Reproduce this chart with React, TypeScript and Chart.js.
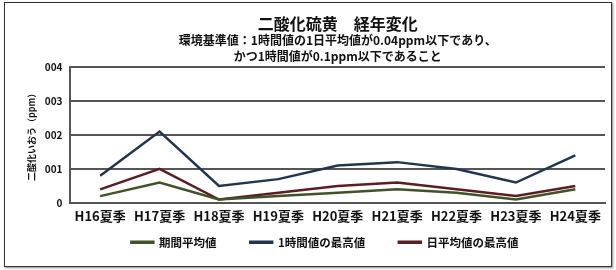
import React, { useEffect, useRef } from "react";
import { Chart, registerables } from "chart.js";

Chart.register(...registerables);

const categories = ["H16夏季", "H17夏季", "H18夏季", "H19夏季", "H20夏季", "H21夏季", "H22夏季", "H23夏季", "H24夏季"];
const periodAvg = [0.002, 0.006, 0.001, 0.002, 0.003, 0.004, 0.003, 0.001, 0.004];
const hourlyMax = [0.008, 0.021, 0.005, 0.007, 0.011, 0.012, 0.010, 0.006, 0.014];
const dailyAvgMax = [0.004, 0.010, 0.001, 0.003, 0.005, 0.006, 0.004, 0.002, 0.005];
const yTickLabels = ["0", "001", "002", "003", "004"];
const seriesNames = ["期間平均値", "1時間値の最高値", "日平均値の最高値"];
const titleText = "二酸化硫黄　経年変化";
const subtitleLines = ["環境基準値：1時間値の1日平均値が0.04ppm以下であり、", "かつ1時間値が0.1ppm以下であること"];
const yTitle = "二酸化いおう（ppm）";

const FONT = "'Noto Sans CJK JP', 'Noto Sans', sans-serif";

export default function App() {
  const ref = useRef<HTMLCanvasElement>(null);
  useEffect(() => {
    document.body.style.margin = "0";
    const colors = ["#3f5228", "#1f3550", "#5b1e22"];
    const chart = new Chart(ref.current!, {
      type: "line",
      data: {
        labels: categories,
        datasets: [periodAvg, hourlyMax, dailyAvgMax].map((d, i) => ({
          label: seriesNames[i] + "　　 ",
          data: d,
          borderColor: colors[i],
          backgroundColor: colors[i],
          borderWidth: 2.5,
          pointRadius: 0,
          tension: 0,
        })),
      },
      options: {
        animation: false,
        responsive: false,
        maintainAspectRatio: false,
        layout: { padding: { left: 22, right: 11, top: 0, bottom: 12 } },
        plugins: {
          title: {
            display: true,
            fullSize: false,
            text: titleText,
            color: "#111",
            font: { family: FONT, size: 16, weight: "bold", lineHeight: 1 },
            padding: { top: 16, bottom: 0 },
          },
          subtitle: {
            display: true,
            fullSize: false,
            text: subtitleLines,
            color: "#111",
            font: { family: FONT, size: 12, weight: "bold", lineHeight: 1.3333 },
            padding: { top: 0, bottom: 3 },
          },
          legend: {
            position: "bottom",
            fullSize: false,
            labels: {
              boxWidth: 22,
              boxHeight: 1,
              padding: 8,
              color: "#111",
              font: { family: FONT, size: 11.5, weight: "bold" },
            },
          },
          tooltip: { enabled: false },
        },
        scales: {
          x: {
            offset: true,
            grid: { display: false, drawTicks: false },
            border: { display: true, color: "#555", width: 2 },
            ticks: {
              color: "#111",
              padding: 5,
              maxRotation: 0,
              font: { family: FONT, size: 13, weight: "bold" },
            },
          },
          y: {
            min: 0,
            max: 0.04,
            ticks: {
              stepSize: 0.01,
              color: "#111",
              padding: 8,
              font: { family: FONT, size: 10, weight: "bold" },
              callback: (_v, i) => yTickLabels[i],
            },
            grid: { color: "#555", lineWidth: 2, drawTicks: false },
            border: { display: true, color: "#555", width: 2 },
            title: {
              display: true,
              text: yTitle,
              color: "#111",
              padding: { top: 4, bottom: 0 },
              font: { family: FONT, size: 9, weight: "bold", lineHeight: 1.2 },
            },
          },
        },
      },
    });
    return () => chart.destroy();
  }, []);
  return (
    <div style={{ position: "relative", width: 616, height: 270 }}>
      <canvas ref={ref} width={616} height={270} style={{ display: "block" }} />
      <div
        style={{
          position: "absolute",
          left: 4,
          top: 2,
          width: 606,
          height: 263,
          border: "1.5px solid #333",
          boxShadow: "1px 1px 2px #888",
          pointerEvents: "none",
        }}
      />
    </div>
  );
}
